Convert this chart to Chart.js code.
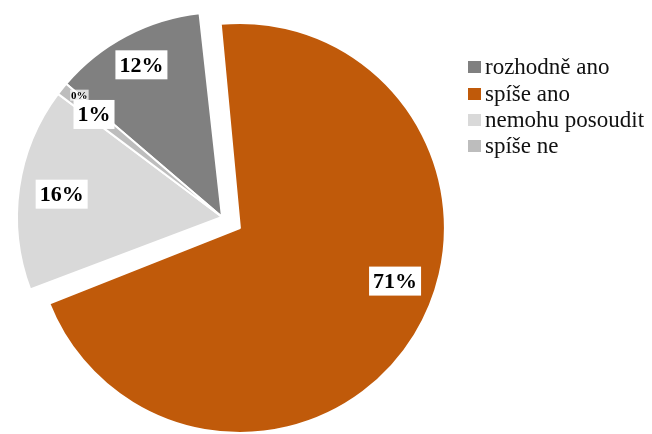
<!DOCTYPE html>
<html>
<head>
<meta charset="utf-8">
<script src="https://cdn.jsdelivr.net/npm/chart.js@4"></script>
<style>
    html, body { margin: 0; padding: 0; background: #fff; }
    #wrap { position: relative; width: 652px; height: 434px; }
    #legend {
        position: absolute;
        left: 468px;
        top: 54px;
        font-family: 'Liberation Serif', 'Times New Roman', serif;
        font-size: 23px;
        color: #111;
    }
    #legend .item { display: flex; align-items: center; height: 26.4px; white-space: nowrap; }
    #legend .box { width: 13px; height: 12px; margin-right: 4px; }
</style>
</head>
<body>
<div id="wrap">
    <canvas id="pieChart" width="652" height="434"></canvas>
    <div id="legend"></div>
</div>
<script>
// Chart data
const categories = ['rozhodně ano', 'spíše ano', 'nemohu posoudit', 'spíše ne', ''];
const shares = [12, 71, 16, 1, 0];
const sliceColors = ['#808080', '#c05a0a', '#d9d9d9', '#bdbdbd', '#a6a6a6'];

// label placement: fraction of radius, angle nudge in degrees, font size
const labelRadius = [0.84, 0.80, 0.79, 0.80, 0.915];
const labelShift = [0, -12.6, 0, 0, 0];
const labelSize = [22, 22, 22, 22, 11];

// keep the exploded slice at the same radius as the others
const keepRadius = {
    id: 'keepRadius',
    beforeDatasetsDraw(chart) {
        const meta = chart.getDatasetMeta(0);
        const base = meta.controller.outerRadius;
        meta.data.forEach(arc => {
            const off = (arc.options.offset || 0) / 4;
            arc.outerRadius = base - off;
        });
    }
};

// percentage labels in white boxes
const sliceLabels = {
    id: 'sliceLabels',
    afterDatasetsDraw(chart) {
        const ctx = chart.ctx;
        const meta = chart.getDatasetMeta(0);
        const base = meta.controller.outerRadius;
        const total = shares.reduce((a, b) => a + b, 0);
        meta.data.forEach((arc, i) => {
            const off = (arc.options.offset || 0) / 4;
            const mid = (arc.startAngle + arc.endAngle) / 2;
            const a = mid + labelShift[i] * Math.PI / 180;
            const r = base * labelRadius[i];
            const cx = arc.x + Math.cos(mid) * off + Math.cos(a) * r;
            const cy = arc.y + Math.sin(mid) * off + Math.sin(a) * r;
            const text = Math.round(shares[i] / total * 100) + '%';
            const size = labelSize[i];
            ctx.save();
            ctx.font = 'bold ' + size + 'px "Liberation Serif", "Times New Roman", serif';
            const w = ctx.measureText(text).width;
            const padX = size > 12 ? 4 : 1;
            const h = size > 12 ? 29 : 11;
            ctx.fillStyle = size > 12 ? '#ffffff' : 'rgba(255,255,255,0.75)';
            ctx.fillRect(cx - w / 2 - padX, cy - h / 2, w + padX * 2, h);
            ctx.fillStyle = '#000000';
            ctx.textAlign = 'center';
            ctx.textBaseline = 'middle';
            ctx.fillText(text, cx, cy + 1);
            ctx.restore();
        });
    }
};

function buildLegend(chart) {
    const box = document.getElementById('legend');
    const items = chart.options.plugins.legend.labels.generateLabels(chart);
    items.filter(item => item.text !== '').forEach(item => {
        const row = document.createElement('div');
        row.className = 'item';
        const sw = document.createElement('span');
        sw.className = 'box';
        sw.style.background = item.fillStyle;
        const label = document.createElement('span');
        label.textContent = item.text;
        row.appendChild(sw);
        row.appendChild(label);
        box.appendChild(row);
    });
}

document.addEventListener('DOMContentLoaded', function() {
    const ctx = document.getElementById('pieChart').getContext('2d');
    window.pieChart = new Chart(ctx, {
        type: 'pie',
        data: {
            labels: categories,
            datasets: [{
                data: shares,
                backgroundColor: sliceColors,
                borderColor: '#ffffff',
                borderWidth: 2,
                offset: [0, 84, 0, 0, 0]
            }]
        },
        options: {
            responsive: false,
            animation: false,
            rotation: -49.5,
            radius: 205,
            layout: {
                padding: { right: 208 }
            },
            plugins: {
                legend: { display: false },
                tooltip: { enabled: false }
            }
        },
        plugins: [keepRadius, sliceLabels]
    });
    buildLegend(window.pieChart);
});
</script>
</body>
</html>
